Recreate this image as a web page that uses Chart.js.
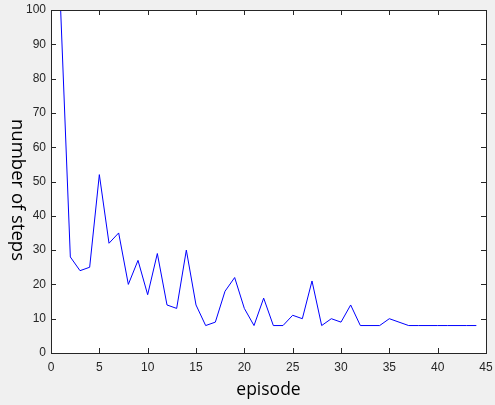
<!DOCTYPE html>
<html>
<head>
<meta charset="utf-8">
<script src="https://cdn.jsdelivr.net/npm/chart.js@4.4.1/dist/chart.umd.min.js"></script>
<style>
  html, body { margin: 0; padding: 0; background: #f0f0f0; }
  #wrap { width: 495px; height: 405px; }
</style>
</head>
<body>
<div id="wrap"><canvas id="steps-chart" width="495" height="405"></canvas></div>
<script>
// episode numbers and steps per episode
let episodes = [1,2,3,4,5,6,7,8,9,10,11,12,13,14,15,16,17,18,19,20,21,22,
  23,24,25,26,27,28,29,30,31,32,33,34,35,36,37,38,39,40,41,42,43,44]
let steps = [100,28,24,25,52,32,35,20,27,17,29,14,13,30,14,8,9,18,22,13,8,16,
  8,8,11,10,21,8,10,9,14,8,8,8,10,9,8,8,8,8,8,8,8,8]

let xTicks = [0,5,10,15,20,25,30,35,40,45]
let yTicks = [0,10,20,30,40,50,60,70,80,90,100]

let xTitle = "episode"
let yTitle = "number of steps"

let axisColor = "#262626"

// chart.js adds room for overhanging labels, we don't want that here
function noPad(s) {
  s.paddingTop = 0
  s.paddingBottom = 0
  s.paddingLeft = 0
  s.paddingRight = 0
}

// white plot area + box + inward ticks, matlab style
let matlabAxes = {
  id: "matlabAxes",
  beforeDraw(chart) {
    let a = chart.chartArea
    let ctx = chart.ctx
    ctx.save()
    ctx.fillStyle = "#ffffff"
    ctx.fillRect(a.left, a.top, a.right - a.left, a.bottom - a.top)
    ctx.restore()
  },
  afterDraw(chart) {
    let a = chart.chartArea
    let ctx = chart.ctx
    let xs = chart.scales.x
    let ys = chart.scales.y
    let len = 5
    ctx.save()
    ctx.strokeStyle = axisColor
    ctx.lineWidth = 1
    ctx.beginPath()
    xTicks.forEach(v => {
      let px = Math.round(xs.getPixelForValue(v)) + 0.5
      ctx.moveTo(px, a.bottom)
      ctx.lineTo(px, a.bottom - len)
      ctx.moveTo(px, a.top)
      ctx.lineTo(px, a.top + len)
    })
    yTicks.forEach(v => {
      let py = Math.round(ys.getPixelForValue(v)) + 0.5
      ctx.moveTo(a.left, py)
      ctx.lineTo(a.left + len, py)
      ctx.moveTo(a.right, py)
      ctx.lineTo(a.right - len, py)
    })
    ctx.stroke()
    ctx.strokeRect(Math.round(a.left) + 0.5, Math.round(a.top) + 0.5,
      Math.round(a.right - a.left), Math.round(a.bottom - a.top))

    // y title reads top-to-bottom in the reference
    ctx.fillStyle = "#000000"
    ctx.font = "18.5px 'Open Sans'"
    ctx.textAlign = "center"
    ctx.textBaseline = "middle"
    ctx.translate(17, 190)
    ctx.rotate(Math.PI / 2)
    ctx.fillText(yTitle, 0, 0)
    ctx.restore()
  }
}

let points = episodes.map((e, i) => ({ x: e, y: steps[i] }))

let ctx = document.getElementById("steps-chart").getContext("2d")

const stepsChart = new Chart(ctx, {
  type: "line",
  data: {
    datasets: [{
      data: points,
      borderColor: "#0000ff",
      borderWidth: 1,
      pointRadius: 0,
      tension: 0,
      fill: false
    }]
  },
  options: {
    responsive: false,
    animation: false,
    layout: { padding: { top: 10, right: 9, left: 0, bottom: 0 } },
    plugins: {
      legend: { display: false },
      tooltip: { enabled: false }
    },
    scales: {
      x: {
        type: "linear",
        min: 0,
        max: 45,
        afterBuildTicks: s => { s.ticks = xTicks.map(v => ({ value: v })) },
        afterFit: s => { s.height = 52; noPad(s) },
        grid: { display: false, drawTicks: false },
        border: { display: false },
        ticks: {
          padding: 7,
          color: axisColor,
          font: { family: "Liberation Sans, Arial", size: 12 },
          maxRotation: 0
        },
        title: {
          display: true,
          text: xTitle,
          color: "#000000",
          font: { family: "Open Sans", size: 17.5 },
          padding: { top: 0, bottom: 4 }
        }
      },
      y: {
        min: 0,
        max: 100,
        afterBuildTicks: s => { s.ticks = yTicks.map(v => ({ value: v })) },
        afterFit: s => { s.width = 51; noPad(s) },
        grid: { display: false, drawTicks: false },
        border: { display: false },
        ticks: {
          padding: 5,
          color: axisColor,
          font: { family: "Liberation Sans, Arial", size: 12 }
        }
      }
    }
  },
  plugins: [matlabAxes]
})
</script>
</body>
</html>
